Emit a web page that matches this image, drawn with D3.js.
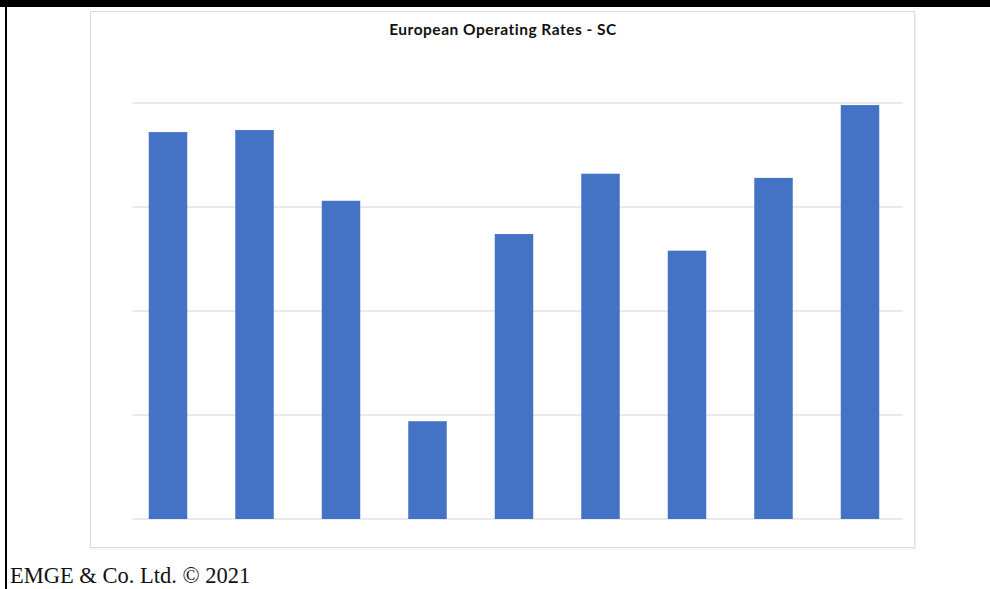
<!DOCTYPE html>
<html>
<head>
<meta charset="utf-8">
<script src="https://cdn.jsdelivr.net/npm/d3@7"></script>
<style>
  html, body { margin: 0; padding: 0; background: #fff; }
  svg { display: block; }
</style>
</head>
<body>
<svg id="chart" width="990" height="589"></svg>
<script>
// Operating rate per period (%), one bar each
const periods = ["2012", "2013", "2014", "2015", "2016", "2017", "2018", "2019", "2020"];
const rates = [88.6, 88.7, 85.3, 74.7, 83.7, 86.6, 82.9, 86.4, 89.9];
const yTicks = [70, 75, 80, 85, 90];

const svg = d3.select("#chart");

// Slide frame: black band on top and a black rule down the left side
svg.append("rect").attr("x", 0).attr("y", 0).attr("width", 990).attr("height", 7).attr("fill", "#000");
svg.append("rect").attr("x", 5).attr("y", 0).attr("width", 2).attr("height", 589).attr("fill", "#000");

// Chart box
svg.append("rect")
  .attr("x", 90.5).attr("y", 11.5)
  .attr("width", 824).attr("height", 536)
  .attr("fill", "#fff")
  .attr("stroke", "#d9d9d9").attr("stroke-width", 1);
svg.append("line").attr("x1", 915).attr("x2", 915).attr("y1", 12).attr("y2", 549)
  .attr("stroke", "#e6e6e6").attr("stroke-width", 1);
svg.append("line").attr("x1", 91).attr("x2", 916).attr("y1", 549).attr("y2", 549)
  .attr("stroke", "#eeeeee").attr("stroke-width", 1);

const x = d3.scaleBand()
  .domain(periods)
  .range([124.75, 903.25])
  .paddingInner(0.555)
  .paddingOuter(0.2775);

const y = d3.scaleLinear()
  .domain([70, 90])
  .range([519, 103]);

// Horizontal gridlines
svg.append("g")
  .selectAll("line")
  .data(yTicks)
  .join("line")
  .attr("x1", 132).attr("x2", 903)
  .attr("y1", d => y(d)).attr("y2", d => y(d))
  .attr("stroke", "#e3e3e3")
  .attr("stroke-width", 1.5);

// Bars
svg.append("g")
  .selectAll("rect")
  .data(rates)
  .join("rect")
  .attr("x", (d, i) => x(periods[i]))
  .attr("y", d => y(d))
  .attr("width", x.bandwidth())
  .attr("height", d => y(70) - y(d))
  .attr("fill", "#4472C4");

// Title
svg.append("text")
  .attr("x", 503).attr("y", 35)
  .attr("text-anchor", "middle")
  .attr("font-family", "Lato, 'Open Sans', sans-serif")
  .attr("font-weight", "bold")
  .attr("font-size", 15.5)
  .attr("letter-spacing", 0.5)
  .attr("fill", "#111")
  .text("European Operating Rates - SC");

// Footer
svg.append("text")
  .attr("x", 10).attr("y", 583)
  .attr("font-family", "'Liberation Serif', 'DejaVu Serif', serif")
  .attr("font-size", 22.5)
  .attr("fill", "#111")
  .text("EMGE & Co. Ltd. © 2021");
</script>
</body>
</html>
